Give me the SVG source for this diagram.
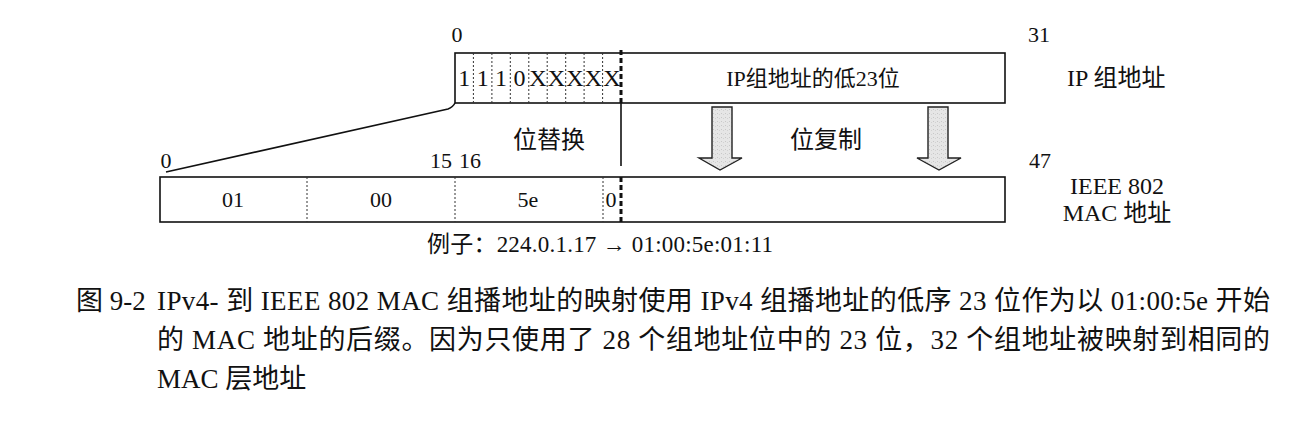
<svg xmlns="http://www.w3.org/2000/svg" width="1312" height="430" viewBox="0 0 1312 430">
<style>
text{font-family:"Liberation Serif","Noto Sans CJK SC",serif;fill:#111;font-size:22px}
.c{text-anchor:middle}
.b{font-size:24px}
.box{fill:#fff;stroke:#111;stroke-width:1.6}
.dot{stroke:#333;stroke-width:1;stroke-dasharray:2 2}
.thick{stroke:#111;stroke-width:3;stroke-dasharray:5 3}
.line{stroke:#111;stroke-width:1.6;fill:none}
.arr{fill:url(#grain);stroke:#222;stroke-width:1.4}
.cap{font-size:27px}
</style>
<defs>
<pattern id="grain" width="4" height="4" patternUnits="userSpaceOnUse">
<rect width="4" height="4" fill="#e6e6e6"/>
<rect x="1" y="1" width="1" height="1" fill="#c8c8c8"/>
<rect x="3" y="2" width="1" height="1" fill="#d2d2d2"/>
</pattern>
</defs>
<g id="ip-address">
<rect class="box" x="455" y="53" width="550" height="50"/>
<line class="dot" x1="473.4" y1="53" x2="473.4" y2="103"/>
<line class="dot" x1="491.9" y1="53" x2="491.9" y2="103"/>
<line class="dot" x1="510.3" y1="53" x2="510.3" y2="103"/>
<line class="dot" x1="528.8" y1="53" x2="528.8" y2="103"/>
<line class="dot" x1="547.2" y1="53" x2="547.2" y2="103"/>
<line class="dot" x1="565.7" y1="53" x2="565.7" y2="103"/>
<line class="dot" x1="584.1" y1="53" x2="584.1" y2="103"/>
<line class="dot" x1="602.6" y1="53" x2="602.6" y2="103"/>
<line class="thick" x1="621" y1="50" x2="621" y2="103"/>
<text class="c b" x="464.2" y="86">1</text>
<text class="c b" x="482.7" y="86">1</text>
<text class="c b" x="501.1" y="86">1</text>
<text class="c b" x="519.5" y="86">0</text>
<text class="c b" x="538" y="86">X</text>
<text class="c b" x="556.5" y="86">X</text>
<text class="c b" x="574.9" y="86">X</text>
<text class="c b" x="593.3" y="86">X</text>
<text class="c b" x="611.8" y="86">X</text>
<text class="c" x="813" y="86">IP组地址的低23位</text>
<text class="c" x="457" y="42">0</text>
<text class="c" x="1039" y="42">31</text>
<text class="b" x="1067" y="86">IP 组地址</text>
</g>
<g id="mac-address">
<rect class="box" x="160" y="177" width="845" height="45"/>
<line class="dot" x1="307" y1="177" x2="307" y2="222"/>
<line class="dot" x1="455" y1="177" x2="455" y2="222"/>
<line class="dot" x1="603" y1="177" x2="603" y2="222"/>
<line class="thick" x1="621" y1="177" x2="621" y2="222"/>
<text class="c" x="233" y="207">01</text>
<text class="c" x="381" y="207">00</text>
<text class="c" x="528" y="207">5e</text>
<text class="c" x="611" y="207">0</text>
<text class="c" x="166" y="168">0</text>
<text class="c" x="441" y="168">15</text>
<text class="c" x="470" y="168">16</text>
<text class="c" x="1040" y="168">47</text>
<text class="c b" x="1117" y="194">IEEE 802</text>
<text class="c b" x="1117" y="221">MAC 地址</text>
</g>
<g id="connectors">
<path class="line" d="M166,172 L448,109 Q453,107 455,103"/>
<line class="line" x1="621" y1="103" x2="621" y2="166"/>
<path class="arr" d="M712,107 L732,107 L732,158 L742,158 L720,170 L699,158 L712,158 Z"/>
<path class="arr" d="M928,107 L948,107 L948,158 L961,158 L939,170 L917,158 L928,158 Z"/>
</g>
<g id="labels">
<text class="c b" x="549" y="148">位替换</text>
<text class="c b" x="826" y="148">位复制</text>
<text class="c" x="600" y="252" style="font-size:23px" textLength="346" lengthAdjust="spacing">例子：224.0.1.17 → 01:00:5e:01:11</text>
</g>
<g id="caption">
<text class="cap" x="76" y="310">图 9-2</text>
<text class="cap" x="157" y="310" textLength="1113" lengthAdjust="spacing">IPv4- 到 IEEE 802 MAC 组播地址的映射使用 IPv4 组播地址的低序 23 位作为以 01:00:5e 开始</text>
<text class="cap" x="157" y="349" textLength="1113" lengthAdjust="spacing">的 MAC 地址的后缀。因为只使用了 28 个组地址位中的 23 位，32 个组地址被映射到相同的</text>
<text class="cap" x="157" y="388">MAC 层地址</text>
</g>
</svg>
